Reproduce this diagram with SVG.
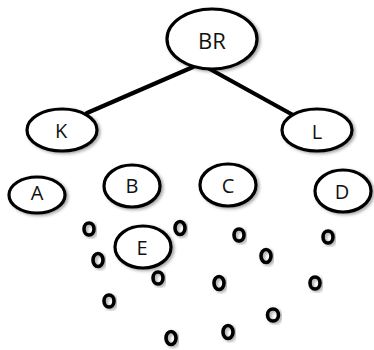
<svg xmlns="http://www.w3.org/2000/svg" width="374" height="350" viewBox="0 0 374 350">
<defs>
<filter id="sh" x="-30%" y="-30%" width="160%" height="160%">
<feDropShadow dx="2" dy="1.5" stdDeviation="1.5" flood-color="#000" flood-opacity="0.35"/>
</filter>
</defs>
<style>
.n{fill:#fff;stroke:#000;stroke-width:3.2;filter:url(#sh)}
.t{font-family:"Open Sans","DejaVu Sans",sans-serif;font-size:20px;fill:#111;text-anchor:middle;dominant-baseline:central}
.o{fill:none;stroke:#000;stroke-width:3.6;filter:url(#sh)}
.e{stroke:#000;stroke-width:4.2;fill:none;stroke-linecap:round}
</style>
<rect width="374" height="350" fill="#fff"/>
<g id="connectors">
<line class="e" x1="193" y1="67" x2="87" y2="113"/>
<line class="e" x1="208" y1="68" x2="293" y2="115"/>
</g>
<g id="BR"><ellipse class="n" cx="212" cy="39" rx="45" ry="30"/><text class="t" x="212" y="40" style="font-size:22px">BR</text></g>
<g id="K"><ellipse class="n" cx="62" cy="130" rx="35" ry="21"/><text class="t" x="61" y="130">K</text></g>
<g id="L"><ellipse class="n" cx="317" cy="130" rx="35" ry="21"/><text class="t" x="317" y="131">L</text></g>
<g id="A"><ellipse class="n" cx="37" cy="195" rx="28" ry="18"/><text class="t" x="37" y="192">A</text></g>
<g id="B"><ellipse class="n" cx="132" cy="186" rx="28" ry="21"/><text class="t" x="132" y="185">B</text></g>
<g id="C"><ellipse class="n" cx="228" cy="185" rx="28" ry="21"/><text class="t" x="228" y="185">C</text></g>
<g id="D"><ellipse class="n" cx="343" cy="191" rx="28" ry="21"/><text class="t" x="342" y="191">D</text></g>
<g id="E"><ellipse class="n" cx="143" cy="247" rx="28" ry="21"/><text class="t" x="142" y="247">E</text></g>
<g id="dots">
<ellipse class="o" cx="89" cy="229" rx="5" ry="6"/>
<ellipse class="o" cx="180" cy="228" rx="5" ry="6.5"/>
<ellipse class="o" cx="239" cy="235" rx="5" ry="6"/>
<ellipse class="o" cx="328" cy="237" rx="5" ry="6"/>
<ellipse class="o" cx="98" cy="260" rx="5" ry="6.5"/>
<ellipse class="o" cx="266" cy="256" rx="5" ry="6.5"/>
<ellipse class="o" cx="158" cy="278" rx="5" ry="6"/>
<ellipse class="o" cx="219" cy="283" rx="5" ry="6.5"/>
<ellipse class="o" cx="315" cy="283" rx="5" ry="6"/>
<ellipse class="o" cx="109" cy="301" rx="5" ry="6"/>
<ellipse class="o" cx="273" cy="315" rx="5.5" ry="6"/>
<ellipse class="o" cx="228" cy="332" rx="5" ry="6.5"/>
<ellipse class="o" cx="171" cy="338" rx="5" ry="6.5"/>
</g>
</svg>
